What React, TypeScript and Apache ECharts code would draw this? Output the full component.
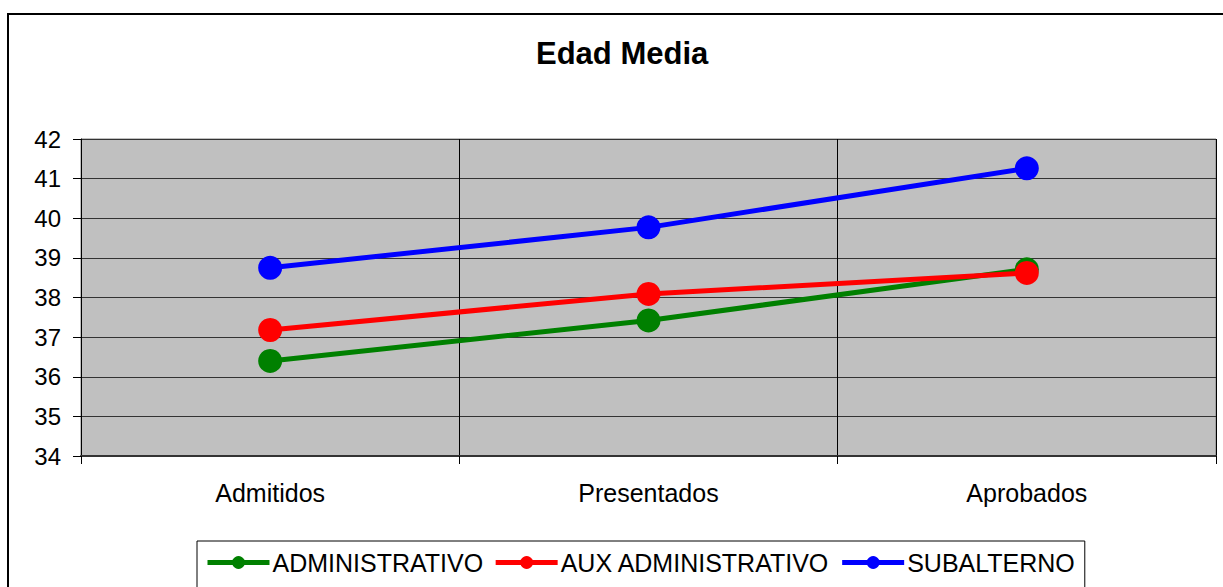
import React, { useEffect, useRef } from "react";
import * as echarts from "echarts";

const categories = ["Admitidos", "Presentados", "Aprobados"];
const administrativo = [36.4, 37.42, 38.71];
const auxAdministrativo = [37.18, 38.09, 38.62];
const subalterno = [38.75, 39.77, 41.26];
const seriesNames = ["ADMINISTRATIVO", "AUX ADMINISTRATIVO", "SUBALTERNO"];
const seriesColors = ["#008000", "#FF0000", "#0000FF"];

export default function App() {
  const ref = useRef<HTMLDivElement>(null);
  useEffect(() => {
    if (!ref.current) return;
    const chart = echarts.init(ref.current, null, { renderer: "svg" });
    const font = "'Liberation Sans', Arial, sans-serif";
    const data = [administrativo, auxAdministrativo, subalterno];
    chart.setOption({
      animation: false,
      backgroundColor: "#FFFFFF",
      textStyle: { fontFamily: font },
      title: {
        text: "Edad Media",
        left: 536,
        top: 38,
        padding: 0,
        textStyle: { fontFamily: font, fontSize: 31, fontWeight: "bold", color: "#000" },
      },
      graphic: [
        {
          type: "rect",
          shape: { x: 8, y: 14, width: 1300, height: 700 },
          style: { fill: "none", stroke: "#000", lineWidth: 2 },
          silent: true,
          z: 100,
        },
      ],
      legend: {
        left: 197,
        top: 541,
        padding: [9, 10, 20, 8],
        itemGap: 10,
        itemWidth: 62,
        itemHeight: 16,
        borderColor: "#000",
        borderWidth: 1,
        backgroundColor: "#FFFFFF",
        lineStyle: { width: 5 },
        textStyle: { fontFamily: font, fontSize: 25, color: "#000", padding: [0, 0, 0, -2] },
        data: seriesNames,
      },
      grid: {
        left: 81,
        top: 139,
        right: 7,
        bottom: 131,
        show: true,
        backgroundColor: "#C0C0C0",
        borderColor: "#808080",
        borderWidth: 1,
      },
      xAxis: {
        type: "category",
        data: categories,
        boundaryGap: true,
        axisLine: { show: true, lineStyle: { color: "#333", width: 2 } },
        axisTick: { show: true, length: 8, alignWithLabel: false, lineStyle: { color: "#000" } },
        axisLabel: { fontFamily: font, fontSize: 25, color: "#000", margin: 24 },
        splitLine: { show: true, lineStyle: { color: "#000", width: 1 } },
      },
      yAxis: {
        type: "value",
        min: 34,
        max: 42,
        interval: 1,
        axisLine: { show: true, lineStyle: { color: "#000", width: 1 } },
        axisTick: { show: true, length: 8, lineStyle: { color: "#000" } },
        axisLabel: { fontFamily: font, fontSize: 24, color: "#000", margin: 20 },
        splitLine: { show: true, lineStyle: { color: "#333", width: 1 } },
      },
      series: seriesNames.map((name, i) => ({
        name,
        type: "line",
        data: data[i],
        symbol: "circle",
        symbolSize: 24,
        lineStyle: { color: seriesColors[i], width: 5 },
        itemStyle: { color: seriesColors[i] },
      })),
    });
    return () => chart.dispose();
  }, []);
  return (
    <div
      ref={ref}
      style={{ position: "absolute", left: 0, top: 0, width: 1223, height: 587 }}
    />
  );
}
